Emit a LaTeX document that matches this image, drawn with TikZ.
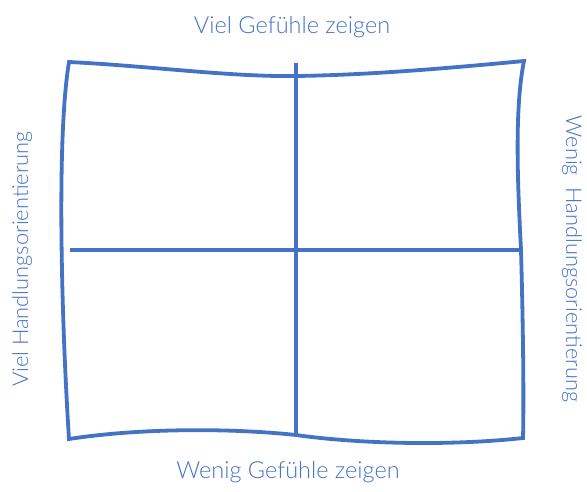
\documentclass[tikz,border=0pt]{standalone}
\usepackage{fontspec}
\setmainfont{Lato}[UprightFont=* Light]
\definecolor{qblue}{RGB}{68,114,196}
\begin{document}
\begin{tikzpicture}[x=1pt,y=-1pt,
  frame/.style={draw=qblue,line width=3.8pt,line join=miter},
  axis/.style={draw=qblue,line width=3.8pt},
  lbl/.style={text=qblue,inner sep=0pt},
  hlbl/.style={lbl,font=\fontsize{23.5}{26}\selectfont},
  vlbl/.style={lbl,font=\fontsize{21.8}{24}\selectfont}]
\useasboundingbox (0,0) rectangle (587,491);
\coordinate (tl) at (69,62);
\coordinate (tm) at (296,76);
\coordinate (tr) at (524,61);
\coordinate (rm) at (521,250);
\coordinate (br) at (523,438);
\coordinate (bm) at (296,435);
\coordinate (bl) at (69,439);
\draw[frame] (tl) .. controls (150,66) and (230,77) .. (tm)
  .. controls (370,75) and (450,68) .. (tr)
  .. controls (514,110) and (518,190) .. (rm)
  .. controls (523,320) and (524,400) .. (br)
  .. controls (450,446) and (360,444) .. (bm)
  .. controls (230,428) and (140,428) .. (bl)
  .. controls (62,330) and (56,140) .. cycle;
\coordinate (vtop) at (296,63);
\coordinate (hl) at (70,250);
\coordinate (hr) at (522,250);
\draw[axis] (vtop) -- (bm);
\draw[axis] (hl) -- (hr);
\node[hlbl,anchor=base] (top) at (292,33) {Viel Gefühle zeigen};
\node[hlbl,anchor=base] (bot) at (288,478) {Wenig Gefühle zeigen};
\node[vlbl,anchor=base,rotate=90] (left) at (28,259) {Viel Handlungsorientierung};
\node[vlbl,anchor=base,rotate=-90] (right) at (566,259) {Wenig\ \ Handlungsorientierung};
\end{tikzpicture}
\end{document}
